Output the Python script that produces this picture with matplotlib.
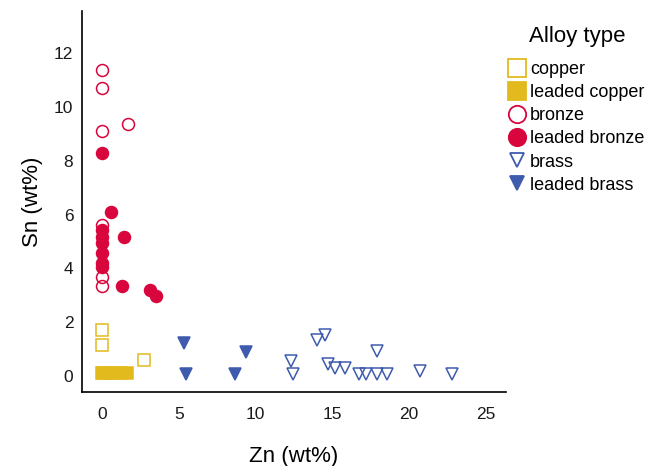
import matplotlib
matplotlib.use("Agg")
import matplotlib.pyplot as plt
from matplotlib.lines import Line2D

plt.rcParams['font.family'] = ['Liberation Sans', 'DejaVu Sans']

# Data: (Zn wt%, Sn wt%)
copper_zn = [0.0, 0.0, 2.76]
copper_sn = [1.71, 1.15, 0.59]

leaded_copper_zn = [0.0, 0.1, 0.45, 0.85, 1.25, 1.65]
leaded_copper_sn = [0.12, 0.12, 0.12, 0.12, 0.12, 0.12]

bronze_zn = [0.0, 0.0, 0.0, 1.68, 0.0, 0.0, 0.0]
bronze_sn = [11.38, 10.71, 9.12, 9.37, 5.61, 3.69, 3.35]

leaded_bronze_zn = [0.0, 0.59, 0.0, 0.0, 0.0, 0.0, 0.0, 0.0, 1.46, 1.28, 3.13, 3.52]
leaded_bronze_sn = [8.30, 6.11, 5.43, 5.18, 4.93, 4.56, 4.20, 4.06, 5.18, 3.35, 3.20, 2.98]

brass_zn = [12.32, 12.45, 14.01, 14.56, 14.71, 15.17, 15.86, 16.73, 17.17,
            17.93, 17.89, 18.58, 20.69, 22.78]
brass_sn = [0.57, 0.07, 1.36, 1.52, 0.45, 0.29, 0.29, 0.07, 0.07,
            0.94, 0.07, 0.07, 0.20, 0.07]

leaded_brass_zn = [5.37, 5.48, 9.38, 8.68]
leaded_brass_sn = [1.22, 0.07, 0.90, 0.07]

labels = ["copper", "leaded copper", "bronze", "leaded bronze", "brass", "leaded brass"]
x_ticks = [0, 5, 10, 15, 20, 25]
y_ticks = [0, 2, 4, 6, 8, 10, 12]

GOLD = "#E2BA1E"
RED = "#D8063C"
BLUE = "#3E5BAE"

fig = plt.figure(figsize=(6.51, 4.66), dpi=100)
ax = fig.add_axes([0.1255, 0.1588, 0.6513, 0.8176])

ms = 8.6
lw = 1.1
ax.plot(copper_zn, copper_sn, ls='none', marker='s', ms=ms, mfc='none', mec=GOLD, mew=lw)
ax.plot(leaded_copper_zn, leaded_copper_sn, ls='none', marker='s', ms=ms, mfc=GOLD, mec=GOLD, mew=lw)
ax.plot(bronze_zn, bronze_sn, ls='none', marker='o', ms=ms, mfc='none', mec=RED, mew=lw)
ax.plot(leaded_bronze_zn, leaded_bronze_sn, ls='none', marker='o', ms=ms, mfc=RED, mec=RED, mew=lw)
ax.plot(brass_zn, brass_sn, ls='none', marker='v', ms=ms, mfc='none', mec=BLUE, mew=lw)
ax.plot(leaded_brass_zn, leaded_brass_sn, ls='none', marker='v', ms=ms, mfc=BLUE, mec=BLUE, mew=lw)

ax.set_xlim(-1.32, 26.3)
ax.set_ylim(-0.59, 13.57)
ax.set_xticks(x_ticks)
ax.set_yticks(y_ticks)
ax.tick_params(axis='both', length=0, labelsize=12.5, colors='#1a1a1a')
ax.tick_params(axis='x', pad=11)
ax.tick_params(axis='y', pad=6)
for s in ['top', 'right']:
    ax.spines[s].set_visible(False)
for s in ['left', 'bottom']:
    ax.spines[s].set_linewidth(1.2)
    ax.spines[s].set_color('black')

ax.set_xlabel("Zn (wt%)", fontsize=16, labelpad=17)
ax.set_ylabel("Sn (wt%)", fontsize=16, labelpad=8)

lms = 12.5
handles = [
    Line2D([], [], ls='none', marker='s', ms=lms, mfc='none', mec=GOLD, mew=1.3),
    Line2D([], [], ls='none', marker='s', ms=lms, mfc=GOLD, mec=GOLD, mew=1.3),
    Line2D([], [], ls='none', marker='o', ms=lms, mfc='none', mec=RED, mew=1.3),
    Line2D([], [], ls='none', marker='o', ms=lms, mfc=RED, mec=RED, mew=1.3),
    Line2D([], [], ls='none', marker='v', ms=10.5, mfc='none', mec=BLUE, mew=1.3),
    Line2D([], [], ls='none', marker='v', ms=10.5, mfc=BLUE, mec=BLUE, mew=1.3),
]
leg = fig.legend(handles, labels, title="Alloy type", loc='upper left',
                 bbox_to_anchor=(0.76, 0.975), frameon=False, fontsize=13,
                 title_fontsize=16, handlelength=0.9, handletextpad=0.25,
                 labelspacing=0.34, borderpad=0.3)
leg._legend_box.sep = 10

fig.savefig("out.png", dpi=100)
